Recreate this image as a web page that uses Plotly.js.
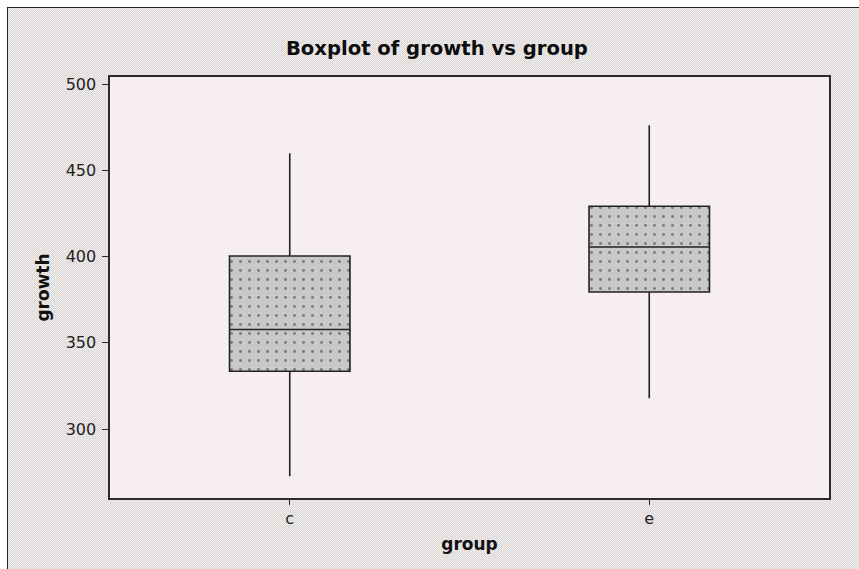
<!DOCTYPE html>
<html>
<head>
<meta charset="utf-8">
<script src="https://cdn.plot.ly/plotly-3.0.1.min.js"></script>
<style>
  html, body { margin: 0; padding: 0; background: #ffffff; width: 859px; height: 569px; overflow: hidden; }
  #frame { position: absolute; left: 7px; top: 7px; width: 852px; height: 562px;
           border-top: 1px solid #222; border-left: 1px solid #222; box-sizing: border-box;
           background: repeating-conic-gradient(#dcd8d8 0% 25%, #f0ecec 0% 50%) 0 0 / 2px 2px; }
  #chart { position: absolute; left: 8px; top: 8px; width: 851px; height: 561px; }
</style>
</head>
<body>
<div id="frame"></div>
<div id="chart"></div>
<script>
// Data
const groups = ["c", "e"];
const lowerWhisker = [272.6, 317.8];
const q1Values = [333.5, 379.5];
const medians = [357.7, 405.6];
const q3Values = [400.4, 429.2];
const upperWhisker = [460.0, 476.2];
const yTicks = [300, 350, 400, 450, 500];

const boxWidth = 0.335;

const patternTrace = {
  type: "bar",
  x: groups,
  base: q1Values,
  y: q3Values.map((v, i) => v - q1Values[i]),
  width: boxWidth,
  marker: {
    color: "#c8c8c8",
    line: { width: 0 },
    pattern: { shape: ".", fgcolor: "#7a7a7a", bgcolor: "#c8c8c8", size: 9, solidity: 0.08 }
  },
  hoverinfo: "skip",
  showlegend: false
};

const boxTrace = {
  type: "box",
  x: groups,
  q1: q1Values,
  median: medians,
  q3: q3Values,
  lowerfence: lowerWhisker,
  upperfence: upperWhisker,
  width: boxWidth,
  whiskerwidth: 0,
  fillcolor: "rgba(0,0,0,0)",
  line: { color: "#222", width: 1.6 },
  showlegend: false
};

const layout = {
  width: 851,
  height: 561,
  paper_bgcolor: "rgba(0,0,0,0)",
  plot_bgcolor: "#f6eeef",
  margin: { l: 102, r: 30, t: 69, b: 71 },
  barmode: "overlay",
  showlegend: false,
  title: {
    text: "<b>Boxplot of growth vs group</b>",
    font: { family: "DejaVu Sans", size: 19.6, color: "#0d0d0d" },
    x: 0.504, xanchor: "center", xref: "container",
    y: 0.929, yanchor: "middle", yref: "container"
  },
  xaxis: {
    type: "category",
    range: [-0.5, 1.5],
    showline: true, mirror: true, linecolor: "#2a2a2a", linewidth: 1.6,
    ticks: "outside", ticklen: 5, tickcolor: "#2a2a2a", tickwidth: 1,
    showgrid: false, zeroline: false,
    tickfont: { family: "DejaVu Sans", size: 16, color: "#222" },
    title: { text: "<b>group</b>", font: { family: "DejaVu Sans", size: 17, color: "#111" }, standoff: 11 },
    automargin: false, fixedrange: true
  },
  yaxis: {
    range: [260, 504.2],
    tickvals: yTicks,
    ticktext: yTicks.map(String),
    showline: true, mirror: true, linecolor: "#2a2a2a", linewidth: 1.6,
    ticks: "outside", ticklen: 6, tickcolor: "#2a2a2a", tickwidth: 1,
    showgrid: false, zeroline: false,
    tickfont: { family: "DejaVu Sans", size: 16, color: "#222" },
    ticklabelstandoff: 3,
    title: { text: "<b>growth</b>", font: { family: "DejaVu Sans", size: 17, color: "#111" }, standoff: 12 },
    automargin: false, fixedrange: true
  }
};

Plotly.newPlot("chart", [patternTrace, boxTrace], layout, { staticPlot: true, displayModeBar: false });
</script>
</body>
</html>
